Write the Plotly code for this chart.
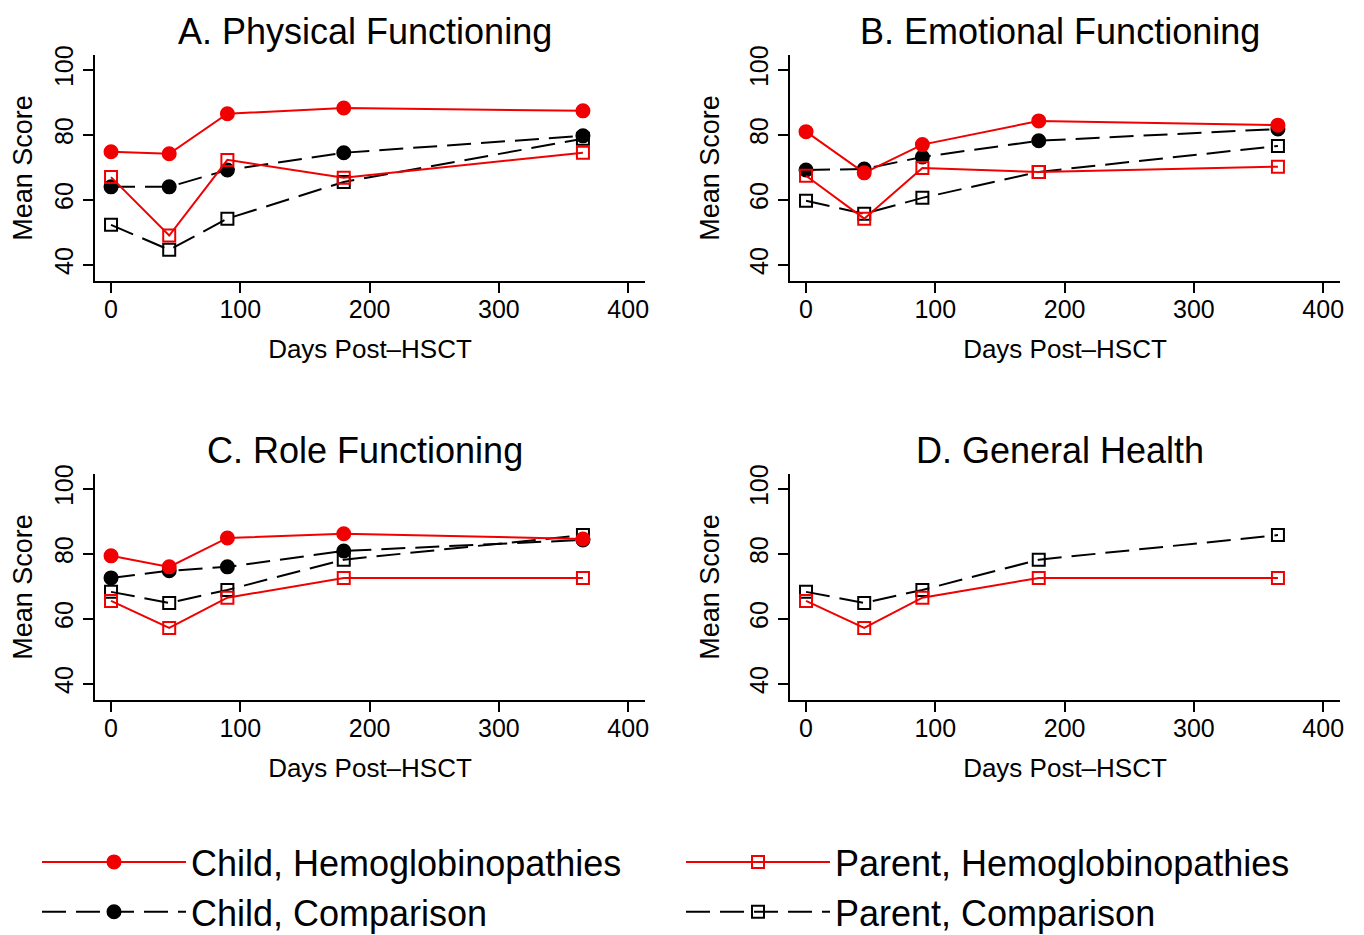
import plotly.graph_objects as go

# ---------------- data ----------------
days = [0, 45, 90, 180, 365]

panel_titles = ["A. Physical Functioning", "B. Emotional Functioning",
                "C. Role Functioning", "D. General Health"]

# Physical functioning
phys_child_hemo = [74.8, 74.2, 86.5, 88.3, 87.4]
phys_child_comp = [64.0, 64.0, 69.2, 74.5, 79.7]
phys_parent_hemo = [67.0, 49.0, 72.3, 66.8, 74.5]
phys_parent_comp = [52.3, 44.6, 54.2, 65.5, 78.8]

# Emotional functioning
emo_child_hemo = [81.0, 68.3, 77.0, 84.3, 83.0]
emo_child_comp = [69.2, 69.5, 73.2, 78.2, 81.8]
emo_parent_hemo = [67.4, 54.2, 69.8, 68.6, 70.2]
emo_parent_comp = [59.7, 55.7, 60.6, 68.6, 76.6]

# Role functioning
role_child_hemo = [79.4, 76.0, 84.9, 86.2, 84.6]
role_child_comp = [72.6, 74.8, 76.0, 80.9, 84.3]
role_parent_hemo = [65.5, 57.2, 66.5, 72.6, 72.6]
role_parent_comp = [68.3, 64.9, 68.9, 78.2, 85.8]

# General health (parent report only)
gen_parent_hemo = [65.5, 57.2, 66.5, 72.6, 72.6]
gen_parent_comp = [68.3, 64.9, 68.9, 78.2, 85.8]

x_ticks = [0, 100, 200, 300, 400]
y_ticks = [40, 60, 80, 100]

series_names = ["Child, Hemoglobinopathies", "Parent, Hemoglobinopathies",
                "Child, Comparison", "Parent, Comparison"]

# ---------------- styles ----------------
RED = "#f00000"
BLACK = "#000000"
FONT = "Liberation Sans, Arial, Helvetica, sans-serif"
DASH = "24px,10px"

styles = {
    "Child, Hemoglobinopathies": dict(color=RED, dash="solid", symbol="circle", rank=1),
    "Parent, Hemoglobinopathies": dict(color=RED, dash="solid", symbol="square-open", rank=2),
    "Child, Comparison": dict(color=BLACK, dash=DASH, symbol="circle", rank=3),
    "Parent, Comparison": dict(color=BLACK, dash=DASH, symbol="square-open", rank=4),
}

panels = [
    {"Child, Hemoglobinopathies": phys_child_hemo, "Child, Comparison": phys_child_comp,
     "Parent, Hemoglobinopathies": phys_parent_hemo, "Parent, Comparison": phys_parent_comp},
    {"Child, Hemoglobinopathies": emo_child_hemo, "Child, Comparison": emo_child_comp,
     "Parent, Hemoglobinopathies": emo_parent_hemo, "Parent, Comparison": emo_parent_comp},
    {"Child, Hemoglobinopathies": role_child_hemo, "Child, Comparison": role_child_comp,
     "Parent, Hemoglobinopathies": role_parent_hemo, "Parent, Comparison": role_parent_comp},
    {"Parent, Hemoglobinopathies": gen_parent_hemo, "Parent, Comparison": gen_parent_comp},
]

# page body has an 8px margin: work in screen pixels, convert with OFF
OFF = 8
W, H = 1364 - OFF, 935 - OFF
ML, MT = 95 - OFF, 55 - OFF
MR = W - (1340 - OFF)
MB = H - (700 - OFF)
PW, PH = W - ML - MR, H - MT - MB


def px_x(x):
    return (x - OFF - ML) / PW


def px_y(y):
    return (H - MB - (y - OFF)) / PH


# plot areas in screen pixels: (left, right, top, bottom)
areas = [(95, 645, 55, 281), (790, 1340, 55, 281),
         (95, 645, 474, 700), (790, 1340, 474, 700)]

fig = go.Figure()
draw_order = ["Parent, Comparison", "Child, Comparison",
              "Parent, Hemoglobinopathies", "Child, Hemoglobinopathies"]

for i, data in enumerate(panels):
    xa = "x" if i == 0 else f"x{i+1}"
    ya = "y" if i == 0 else f"y{i+1}"
    for name in draw_order:
        if name not in data:
            continue
        st = styles[name]
        filled = st["symbol"] == "circle"
        fig.add_trace(go.Scatter(
            x=days, y=data[name], mode="lines+markers", name=name,
            xaxis=xa, yaxis=ya,
            line=dict(color=st["color"], width=2, dash=st["dash"]),
            marker=dict(symbol=st["symbol"], size=13 if filled else 12,
                        color=st["color"],
                        line=dict(color=st["color"], width=2)),
            showlegend=(i == 0), legendrank=st["rank"],
        ))

annotations = []
for i, (l, r, t, b) in enumerate(areas):
    sfx = "" if i == 0 else str(i + 1)
    xdom = [max(0, px_x(l)), min(1, px_x(r))]
    ydom = [max(0, px_y(b)), min(1, px_y(t))]
    common = dict(showline=True, linecolor="black", linewidth=2, ticks="outside",
                  ticklen=10, tickwidth=2, tickcolor="black", showgrid=False,
                  zeroline=False, mirror=False, automargin=False,
                  tickfont=dict(family=FONT, size=25, color="black"))
    fig.layout["xaxis" + sfx] = dict(
        domain=xdom, range=[-12.4, 413], tickvals=x_ticks,
        anchor="y" + sfx, ticklabelstandoff=-5,
        title=dict(text="Days Post\u2013HSCT", standoff=18,
                   font=dict(family=FONT, size=26, color="black")),
        **common)
    fig.layout["yaxis" + sfx] = dict(
        domain=ydom, range=[35.0, 104.6], tickvals=y_ticks, tickangle=-90,
        anchor="x" + sfx,
        title=dict(text="Mean Score", standoff=18,
                   font=dict(family=FONT, size=27, color="black")),
        **common)
    annotations.append(dict(
        text=panel_titles[i], xref="paper", yref="paper",
        x=px_x((l + r) / 2 - 5), y=px_y(t - 46),
        xanchor="center", yanchor="top", showarrow=False,
        font=dict(family=FONT, size=36, color="black")))

fig.update_layout(
    width=W, height=H,
    margin=dict(l=ML, r=MR, t=MT, b=MB, autoexpand=False),
    paper_bgcolor="white", plot_bgcolor="white",
    annotations=annotations,
    legend=dict(orientation="h", x=px_x(37), xanchor="left",
                y=px_y(832), yanchor="top",
                entrywidth=485, entrywidthmode="pixels",
                itemwidth=144, tracegroupgap=0,
                font=dict(family=FONT, size=36, color="black"),
                bgcolor="rgba(0,0,0,0)"),
)

fig.write_html("out.html")
